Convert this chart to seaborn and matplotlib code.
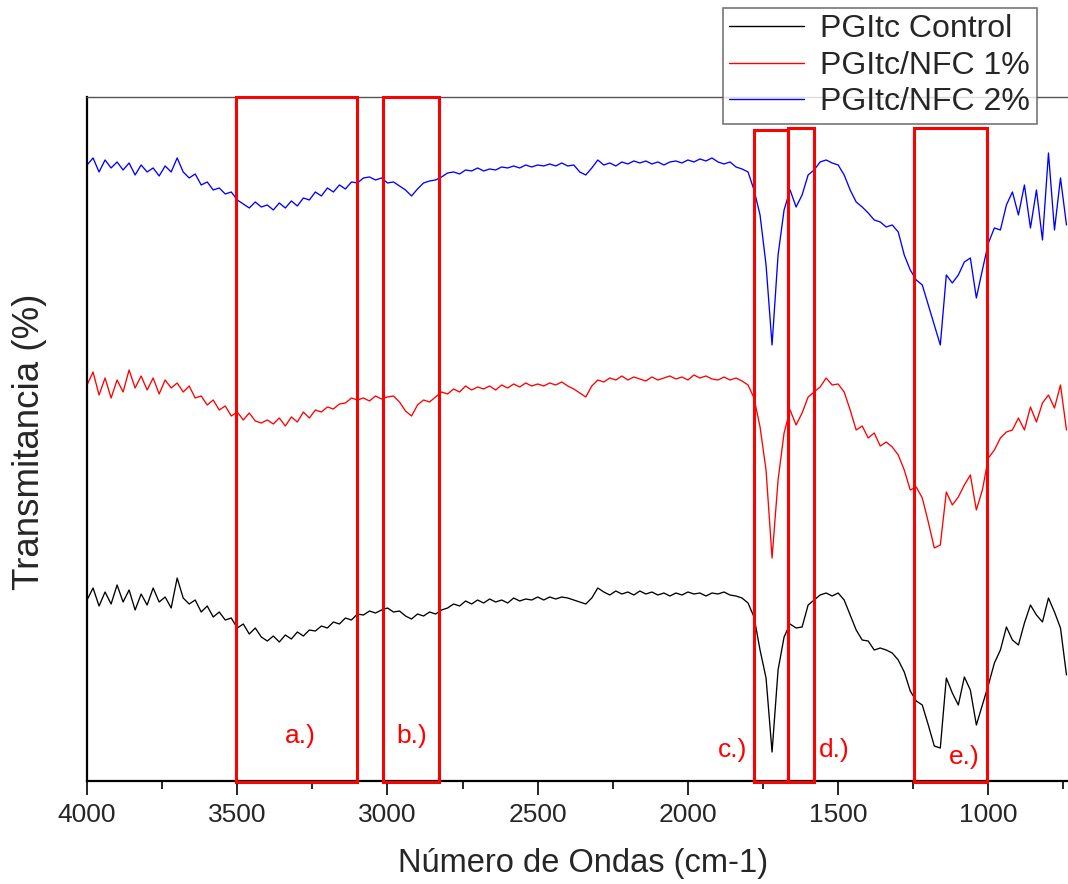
"""
plot.py

FTIR spectra of the PGItc films (control, 1% and 2% NFC) with the
characteristic band regions boxed in red.
"""

import numpy as np
import pandas as pd
import matplotlib
matplotlib.use("Agg")
import matplotlib.pyplot as plt
from matplotlib.patches import Rectangle
import seaborn as sns

sns.set_style("ticks")
plt.rcParams["font.family"] = ["Liberation Sans", "DejaVu Sans"]

wavenumbers = np.arange(4000, 739, -20)

# stacked transmittance (arbitrary offset units), one row = 10 grid points
control = [
    20.0, 21.2, 19.4, 20.8, 19.6, 21.5, 19.8, 21.0, 19.0, 20.6,
    19.5, 21.2, 19.8, 20.3, 19.2, 22.2, 20.2, 19.6, 20.0, 18.8,
    19.4, 18.3, 18.8, 18.0, 18.2, 17.2, 17.6, 16.6, 17.2, 16.3,
    15.9, 16.4, 15.8, 16.5, 16.1, 16.8, 16.4, 17.0, 16.9, 17.4,
    17.2, 17.8, 17.6, 18.2, 18.0, 18.6, 18.5, 18.9, 18.7, 19.0,
    19.2, 18.8, 18.9, 18.4, 18.1, 18.6, 18.4, 18.8, 18.6, 19.0,
    19.2, 19.6, 19.4, 19.9, 19.6, 20.0, 19.7, 20.1, 19.8, 20.0,
    19.7, 20.2, 19.9, 20.1, 20.0, 20.3, 20.0, 20.3, 20.1, 20.3,
    20.2, 20.0, 19.8, 19.6, 20.2, 21.2, 20.8, 20.5, 20.9, 20.6,
    20.8, 20.5, 20.9, 20.6, 20.8, 20.5, 20.7, 20.4, 20.7, 20.5,
    20.8, 20.6, 20.7, 20.4, 20.7, 20.6, 20.8, 20.5, 20.4, 20.2,
    19.7, 18.3, 15.0, 12.2, 4.8, 13.0, 16.3, 17.6, 17.2, 17.3,
    19.5, 20.0, 20.5, 20.7, 20.4, 20.7, 20.0, 18.5, 17.0, 16.0,
    15.9, 15.0, 15.2, 15.0, 14.7, 14.0, 12.8, 10.9, 9.9, 9.5,
    7.5, 5.4, 5.2, 12.2, 10.7, 9.5, 12.3, 11.0, 7.5, 9.5,
    11.5, 13.7, 15.0, 17.3, 16.0, 15.5, 17.7, 19.5, 18.5, 17.8,
    20.2, 18.8, 17.2, 12.5,
]
nfc_1 = [
    41.5, 42.8, 40.5, 42.2, 40.2, 42.0, 40.8, 43.0, 41.2, 42.4,
    41.0, 42.2, 40.6, 42.0, 41.2, 41.7, 40.8, 41.4, 40.2, 40.4,
    39.5, 40.0, 39.0, 39.4, 38.4, 38.8, 38.0, 38.7, 37.9, 37.7,
    38.0, 37.6, 38.2, 37.4, 38.3, 37.8, 38.8, 38.2, 39.0, 38.8,
    39.3, 39.1, 39.6, 39.7, 40.2, 40.0, 40.2, 39.9, 40.4, 40.1,
    40.3, 40.4, 39.8, 38.9, 38.4, 39.5, 40.0, 39.8, 40.3, 40.8,
    40.6, 41.1, 40.8, 41.4, 41.0, 41.3, 41.1, 41.4, 41.0, 41.5,
    41.2, 41.6, 41.3, 41.7, 41.4, 41.6, 41.4, 41.7, 41.5, 41.8,
    41.4, 41.1, 40.7, 40.3, 41.4, 42.0, 41.8, 42.2, 42.0, 42.4,
    42.0, 42.3, 42.1, 41.9, 42.3, 42.0, 42.2, 42.4, 42.1, 42.3,
    42.0, 42.5, 42.2, 42.4, 42.1, 42.0, 42.3, 42.0, 42.2, 41.9,
    41.5, 40.2, 37.3, 33.0, 24.2, 32.0, 36.7, 39.0, 37.5, 38.7,
    40.3, 40.8, 41.3, 42.2, 41.5, 41.6, 40.8, 39.0, 37.0, 37.4,
    36.2, 36.7, 35.4, 35.8, 35.3, 34.5, 33.0, 31.0, 31.3, 30.2,
    27.8, 25.2, 25.5, 30.8, 29.5, 30.3, 31.5, 32.5, 29.0, 31.0,
    34.2, 35.0, 36.2, 36.8, 37.0, 38.2, 37.0, 39.3, 37.8, 39.7,
    40.5, 39.2, 41.5, 37.0,
]
nfc_2 = [
    63.5, 64.2, 62.8, 64.0, 63.2, 63.8, 63.0, 63.7, 62.5, 63.5,
    62.8, 63.2, 62.4, 63.4, 62.8, 64.2, 62.8, 62.2, 62.6, 61.5,
    61.8, 61.0, 61.2, 60.6, 60.8, 60.0, 59.6, 59.2, 59.8, 59.3,
    59.5, 59.0, 59.7, 59.2, 59.9, 59.4, 60.2, 60.0, 60.8, 60.4,
    61.2, 60.8, 61.5, 61.1, 61.8, 61.7, 62.2, 62.3, 62.0, 62.2,
    61.7, 61.8, 61.4, 61.0, 60.4, 61.1, 61.7, 61.9, 62.0, 62.3,
    62.7, 62.8, 62.6, 63.0, 62.9, 63.2, 62.9, 63.1, 63.0, 63.3,
    63.2, 63.4, 63.2, 63.5, 63.3, 63.5, 63.4, 63.6, 63.4, 63.7,
    63.4, 63.5, 62.8, 62.5, 63.2, 64.0, 63.5, 63.7, 63.4, 63.8,
    63.6, 63.9, 63.7, 63.9, 63.6, 63.8, 63.5, 63.8, 63.9, 63.7,
    64.0, 63.8, 64.1, 63.9, 64.2, 63.8, 63.6, 63.8, 63.3, 63.1,
    62.8, 61.0, 58.5, 53.5, 45.5, 54.5, 59.0, 61.0, 59.3, 60.5,
    62.5, 63.0, 63.8, 64.0, 63.7, 63.5, 62.5, 61.0, 59.8, 59.3,
    58.7, 58.0, 57.8, 57.3, 57.5, 56.8, 54.5, 53.0, 52.0, 51.5,
    49.5, 47.5, 45.5, 52.5, 51.7, 52.5, 53.8, 54.2, 50.2, 53.0,
    55.7, 57.2, 57.0, 59.5, 60.8, 58.5, 61.5, 57.2, 61.0, 56.0,
    64.7, 57.0, 62.2, 57.5,
]

series_names = ["PGItc Control", "PGItc/NFC 1%", "PGItc/NFC 2%"]
series_colors = ["#000000", "#ff0000", "#0000ff"]

# band regions: (label, high wavenumber, low wavenumber, box top)
band_labels = ["a.)", "b.)", "c.)", "d.)", "e.)"]
band_high = [3505, 3015, 1780, 1668, 1248]
band_low = [3100, 2830, 1668, 1582, 1003]
band_top = [70.3, 70.3, 67.0, 67.2, 67.2]
label_x = [3290, 2921, 1850, 1513, 1081]
label_y = [6.4, 6.4, 5.0, 5.0, 4.3]

frames = []
for name, values in zip(series_names, [control, nfc_1, nfc_2]):
    frames.append(pd.DataFrame({"wavenumber": wavenumbers, "signal": values, "sample": name}))
spectra = pd.concat(frames, ignore_index=True)

fig = plt.figure(figsize=(10.68, 8.84), dpi=100)
ax = fig.add_axes([0.0815, 0.1165, 0.9185, 0.7738])

sns.lineplot(
    data=spectra, x="wavenumber", y="signal", hue="sample",
    palette=dict(zip(series_names, series_colors)),
    linewidth=0.95, sort=False, estimator=None, ax=ax, legend=False,
)

ax.set_xlim(4000, 735)
ax.set_ylim(1.9, 70.3)
ax.set_yticks([])
ax.set_xticks([4000, 3500, 3000, 2500, 2000, 1500, 1000])
ax.set_xticks([3750, 3250, 2750, 2250, 1750, 1250, 750], minor=True)
ax.tick_params(axis="x", which="major", direction="out", length=10, width=1.4,
               labelsize=19, pad=6)
ax.tick_params(axis="x", which="minor", direction="out", length=6, width=1.4)
for side in ["left", "bottom"]:
    ax.spines[side].set_linewidth(1.6)
    ax.spines[side].set_color("#000000")
ax.spines["top"].set_color("#555555")
ax.spines["top"].set_linewidth(1.0)
ax.spines["right"].set_visible(False)

ax.set_xlabel("Número de Ondas (cm-1)", fontsize=23.5)
ax.xaxis.set_label_coords(0.506, -0.098)
ax.set_ylabel("Transmitancia (%)", fontsize=26.5)
ax.yaxis.set_label_coords(-0.041, 0.496)

for lab, hi, lo, top, tx, ty in zip(band_labels, band_high, band_low, band_top, label_x, label_y):
    ax.add_patch(Rectangle((lo, 1.8), hi - lo, top - 1.8, fill=False,
                           edgecolor="#ff0000", linewidth=2.2, clip_on=False, zorder=5))
    ax.text(tx, ty, lab, color="#ff0000", fontsize=19, ha="center", va="center")

handles = [plt.Line2D([], [], color=c, linewidth=1.0) for c in series_colors]
leg = fig.legend(handles, series_names, loc="upper left", bbox_to_anchor=(723 / 1068, 1 - 8 / 884),
                 fontsize=23, frameon=True, fancybox=False, handlelength=2.35,
                 labelspacing=0.2, borderpad=0.2, handletextpad=0.5, borderaxespad=0)
leg.get_frame().set_edgecolor("#555555")
leg.get_frame().set_linewidth(1.2)

fig.savefig("out.png", dpi=100)
plt.close(fig)
